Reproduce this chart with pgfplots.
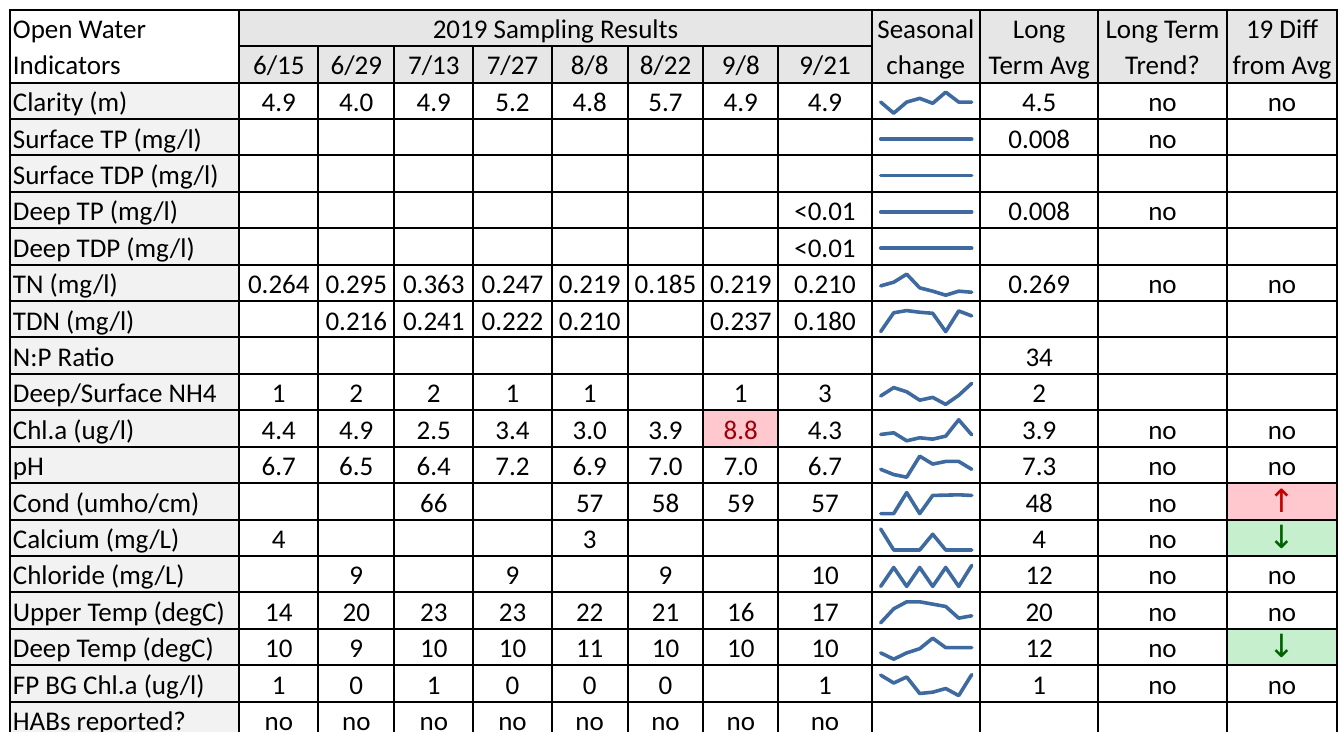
\documentclass[border=0pt]{standalone}
\usepackage{pgfplots}
\pgfplotsset{compat=1.18}
\usepackage{fontspec}
\setmainfont{Carlito}
\newfontfamily\arrowfont{DejaVu Sans}
\definecolor{hdr}{HTML}{E7E6E6}
\definecolor{lab}{HTML}{F2F2F2}
\definecolor{pinkf}{HTML}{FFC7CE}
\definecolor{pinkt}{HTML}{9C0006}
\definecolor{greenf}{HTML}{C6EFCE}
\definecolor{greent}{HTML}{006100}
\definecolor{redarr}{HTML}{C00000}
\definecolor{spk}{HTML}{3F6AA0}
\tikzset{txt/.style={font=\fontsize{13.5}{15}\selectfont, inner sep=0pt},
  grid/.style={black, line width=1pt, line cap=rect}}
\pgfplotsset{spark/.style={scale only axis, hide axis, width=45.5pt, height=10.5pt,
  xmin=0, xmax=7, enlargelimits=false, anchor=south west, clip=false},
  sparkline/.style={spk, line width=1.8pt, line join=round, line cap=round, mark=none}}
% cell text helpers (x in px-units, row index)
\newcommand\Lab[2]{\node[txt,anchor=base west] at (axis cs:12.5,{111.7+36.4*#1}) {#2};}
\newcommand\C[3]{\node[txt,anchor=base] at (axis cs:#1,{111.7+36.4*#2}) {#3};}
\newcommand\RowA[6]{\Lab{#1}{#2}\C{278.8}{#1}{#3}\C{356.3}{#1}{#4}\C{433.8}{#1}{#5}\C{512.5}{#1}{#6}}
\newcommand\RowB[8]{\C{589.7}{#1}{#2}\C{665.5}{#1}{#3}\C{740.8}{#1}{#4}\C{825}{#1}{#5}\C{1039.2}{#1}{#6}\C{1162.5}{#1}{#7}\C{1282}{#1}{#8}}
\newcommand\Spark[3]{\begin{axis}[spark,at={(440.35pt,{309.4pt-18.2pt*#1})},#2]
  \addplot[sparkline] coordinates {#3};\end{axis}}
\newcommand\Up{{\arrowfont\fontsize{16}{16}\selectfont\color{redarr}↑}}
\newcommand\Dn{{\arrowfont\fontsize{16}{16}\selectfont\color{greent}↓}}
\begin{document}
\begin{tikzpicture}
\begin{axis}[name=main, scale only axis, width=669pt, height=366pt,
  xmin=0, xmax=1338, ymin=0, ymax=732, y dir=reverse, hide axis, clip=false]
% fills
\fill[hdr] (axis cs:239.3,10) rectangle (axis cs:1337.3,82.7);
\fill[lab] (axis cs:9.5,82.7) rectangle (axis cs:239.3,732);
\fill[pinkf] (axis cs:703.3,410.3) rectangle (axis cs:778.3,446.7);
\fill[pinkf] (axis cs:1226.7,483.1) rectangle (axis cs:1337.3,519.5);
\fill[greenf] (axis cs:1226.7,519.5) rectangle (axis cs:1337.3,555.9);
\fill[greenf] (axis cs:1226.7,628.7) rectangle (axis cs:1337.3,665.1);
% grid
\pgfplotsinvokeforeach{9.5,239.3,871.7,980,1098.3,1226.7,1337.3}{\draw[grid] (axis cs:#1,10) -- (axis cs:#1,732);}
\pgfplotsinvokeforeach{318.3,394.3,473.3,551.7,627.7,703.3,778.3}{\draw[grid] (axis cs:#1,46.3) -- (axis cs:#1,732);}
\draw[grid] (axis cs:9.5,10) -- (axis cs:1337.3,10);
\draw[grid] (axis cs:239.3,46.3) -- (axis cs:871.7,46.3);
\pgfplotsinvokeforeach{0,...,17}{\draw[grid] (axis cs:9.5,{82.7+36.4*#1}) -- (axis cs:1337.3,{82.7+36.4*#1});}
% header
\node[txt,anchor=base west] at (axis cs:12.5,38.5) {Open Water};
\node[txt,anchor=base west] at (axis cs:12.5,74.3) {Indicators};
\node[txt,anchor=base] at (axis cs:555.5,38.5) {2019 Sampling Results};
\node[txt,anchor=base] at (axis cs:925.8,38.5) {Seasonal};
\node[txt,anchor=base] at (axis cs:925.8,74.3) {change};
\node[txt,anchor=base] at (axis cs:1039.2,38.5) {Long};
\node[txt,anchor=base] at (axis cs:1039.2,74.3) {Term Avg};
\node[txt,anchor=base] at (axis cs:1162.5,38.5) {Long Term};
\node[txt,anchor=base] at (axis cs:1162.5,74.3) {Trend?};
\node[txt,anchor=base] at (axis cs:1282,38.5) {19 Diff};
\node[txt,anchor=base] at (axis cs:1282,74.3) {from Avg};
\node[txt,anchor=base] at (axis cs:278.8,74.3) {6/15};
\node[txt,anchor=base] at (axis cs:356.3,74.3) {6/29};
\node[txt,anchor=base] at (axis cs:433.8,74.3) {7/13};
\node[txt,anchor=base] at (axis cs:512.5,74.3) {7/27};
\node[txt,anchor=base] at (axis cs:589.7,74.3) {8/8};
\node[txt,anchor=base] at (axis cs:665.5,74.3) {8/22};
\node[txt,anchor=base] at (axis cs:740.8,74.3) {9/8};
\node[txt,anchor=base] at (axis cs:825,74.3) {9/21};
% rows
\RowA{0}{Clarity (m)}{4.9}{4.0}{4.9}{5.2}\RowB{0}{4.8}{5.7}{4.9}{4.9}{4.5}{no}{no}
\RowA{1}{Surface TP (mg/l)}{}{}{}{}\RowB{1}{}{}{}{}{0.008}{no}{}
\RowA{2}{Surface TDP (mg/l)}{}{}{}{}\RowB{2}{}{}{}{}{}{}{}
\RowA{3}{Deep TP (mg/l)}{}{}{}{}\RowB{3}{}{}{}{<0.01}{0.008}{no}{}
\RowA{4}{Deep TDP (mg/l)}{}{}{}{}\RowB{4}{}{}{}{<0.01}{}{}{}
\RowA{5}{TN (mg/l)}{0.264}{0.295}{0.363}{0.247}\RowB{5}{0.219}{0.185}{0.219}{0.210}{0.269}{no}{no}
\RowA{6}{TDN (mg/l)}{}{0.216}{0.241}{0.222}\RowB{6}{0.210}{}{0.237}{0.180}{}{}{}
\RowA{7}{N:P Ratio}{}{}{}{}\RowB{7}{}{}{}{}{34}{}{}
\RowA{8}{Deep/Surface NH4}{1}{2}{2}{1}\RowB{8}{1}{}{1}{3}{2}{}{}
\RowA{9}{Chl.a (ug/l)}{4.4}{4.9}{2.5}{3.4}\RowB{9}{3.0}{3.9}{\color{pinkt}8.8}{4.3}{3.9}{no}{no}
\RowA{10}{pH}{6.7}{6.5}{6.4}{7.2}\RowB{10}{6.9}{7.0}{7.0}{6.7}{7.3}{no}{no}
\RowA{11}{Cond (umho/cm)}{}{}{66}{}\RowB{11}{57}{58}{59}{57}{48}{no}{\Up}
\RowA{12}{Calcium (mg/L)}{4}{}{}{}\RowB{12}{3}{}{}{}{4}{no}{\Dn}
\RowA{13}{Chloride (mg/L)}{}{9}{}{9}\RowB{13}{}{9}{}{10}{12}{no}{no}
\RowA{14}{Upper Temp (degC)}{14}{20}{23}{23}\RowB{14}{22}{21}{16}{17}{20}{no}{no}
\RowA{15}{Deep Temp (degC)}{10}{9}{10}{10}\RowB{15}{11}{10}{10}{10}{12}{no}{\Dn}
\RowA{16}{FP BG Chl.a (ug/l)}{1}{0}{1}{0}\RowB{16}{0}{0}{}{1}{1}{no}{no}
\RowA{17}{HABs reported?}{no}{no}{no}{no}\RowB{17}{no}{no}{no}{no}{}{}{}
\end{axis}
% sparklines (seasonal change)
\Spark{0}{}{(0,4.9)(1,4.0)(2,4.9)(3,5.2)(4,4.8)(5,5.7)(6,4.9)(7,4.9)}
\Spark{1}{ymin=-1,ymax=1}{(0,0)(1,0)(2,0)(3,0)(4,0)(5,0)(6,0)(7,0)}
\Spark{2}{ymin=-1,ymax=1}{(0,0)(1,0)(2,0)(3,0)(4,0)(5,0)(6,0)(7,0)}
\Spark{3}{ymin=-1,ymax=1}{(0,0)(1,0)(2,0)(3,0)(4,0)(5,0)(6,0)(7,0)}
\Spark{4}{ymin=-1,ymax=1}{(0,0)(1,0)(2,0)(3,0)(4,0)(5,0)(6,0)(7,0)}
\Spark{5}{}{(0,0.264)(1,0.295)(2,0.363)(3,0.247)(4,0.219)(5,0.185)(6,0.219)(7,0.210)}
\Spark{6}{}{(0,0)(1,0.216)(2,0.241)(3,0.222)(4,0.210)(5,0)(6,0.237)(7,0.180)}
\Spark{8}{}{(0,1.2)(1,2.4)(2,1.8)(3,0.6)(4,1.0)(5,0)(6,1.3)(7,3.0)}
\Spark{9}{}{(0,4.4)(1,4.9)(2,2.5)(3,3.4)(4,3.0)(5,3.9)(6,8.8)(7,4.3)}
\Spark{10}{}{(0,6.7)(1,6.5)(2,6.4)(3,7.2)(4,6.9)(5,7.0)(6,7.0)(7,6.7)}
\Spark{11}{}{(0,0)(1,0)(2,66)(3,0)(4,57)(5,58)(6,59)(7,57)}
\Spark{12}{}{(0,4)(1,0)(2,0)(3,0)(4,3)(5,0)(6,0)(7,0)}
\Spark{13}{}{(0,0)(1,9)(2,0)(3,9)(4,0)(5,9)(6,0)(7,10)}
\Spark{14}{}{(0,14)(1,20)(2,23)(3,23)(4,22)(5,21)(6,16)(7,17)}
\Spark{15}{}{(0,9.6)(1,9.0)(2,9.6)(3,10.0)(4,11.0)(5,10.1)(6,10.1)(7,10.1)}
\Spark{16}{}{(0,0.78)(1,0.48)(2,0.71)(3,0.08)(4,0.13)(5,0.27)(6,0)(7,0.8)}
\pgfresetboundingbox
\path[use as bounding box] (main.south west) rectangle (main.north east);
\end{tikzpicture}
\end{document}
